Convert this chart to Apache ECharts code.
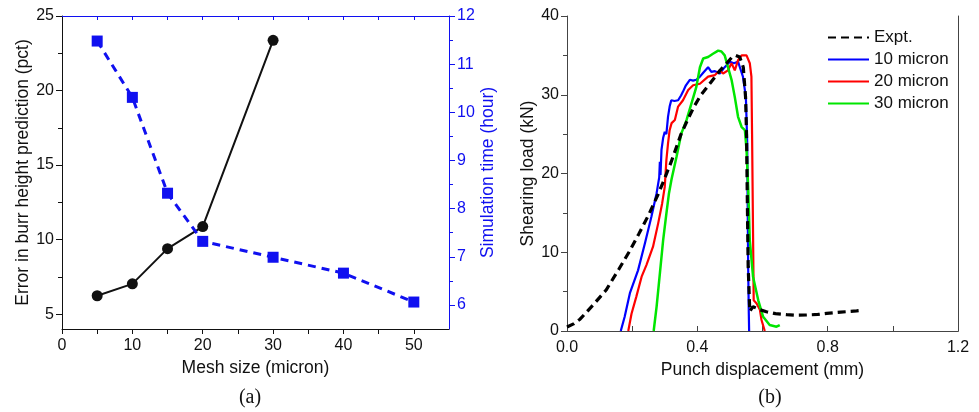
<!DOCTYPE html>
<html>
<head>
<meta charset="utf-8">
<script src="https://cdn.jsdelivr.net/npm/echarts@6/dist/echarts.min.js"></script>
<style>
  html, body { margin: 0; padding: 0; background: #ffffff; }
  #chart { width: 979px; height: 412px; }
</style>
</head>
<body>
<div id="chart"></div>
<script>
// (a) burr-height error and simulation time versus mesh size
const errMesh = [5, 10, 15, 20, 30];
const errPct = [6.23, 7.03, 9.39, 10.87, 23.37];
const timeMesh = [5, 10, 15, 20, 30, 40, 50];
const simHours = [11.48, 10.31, 8.32, 7.32, 6.99, 6.66, 6.06];

// (b) shearing load versus punch displacement
const exptDisp = [0.0, 0.02, 0.04, 0.08, 0.12, 0.16, 0.19, 0.22, 0.25, 0.28, 0.30, 0.32, 0.35, 0.37, 0.39, 0.41, 0.44, 0.47, 0.49, 0.505, 0.518, 0.53, 0.541, 0.548, 0.551, 0.553, 0.556, 0.561, 0.571, 0.592, 0.612, 0.64, 0.674, 0.70, 0.735, 0.77, 0.797, 0.84, 0.889, 0.90];
const exptLoad = [0.5, 0.9, 1.5, 3.3, 5.2, 7.9, 10.0, 12.3, 14.7, 17.4, 19.4, 21.5, 25.0, 26.8, 28.5, 29.9, 31.5, 33.1, 34.0, 34.7, 35.0, 34.8, 33.5, 29.7, 25.0, 18.0, 8.2, 2.5, 3.1, 2.7, 2.45, 2.2, 2.07, 2.0, 2.03, 2.1, 2.24, 2.4, 2.55, 2.6];

const m10Disp = [0.165, 0.177, 0.193, 0.218, 0.239, 0.259, 0.275, 0.283, 0.285, 0.287, 0.29, 0.295, 0.30, 0.305, 0.31, 0.315, 0.32, 0.33, 0.341, 0.35, 0.356, 0.365, 0.377, 0.387, 0.397, 0.408, 0.418, 0.433, 0.443, 0.454, 0.469, 0.484, 0.50, 0.512, 0.525, 0.532, 0.54, 0.549, 0.553, 0.556, 0.558, 0.559];
const m10Load = [0.0, 1.8, 4.8, 7.7, 11.1, 14.5, 17.5, 19.5, 21.5, 19.8, 23.0, 24.5, 25.3, 25.0, 27.2, 28.5, 29.3, 29.2, 29.3, 29.9, 30.4, 31.2, 31.9, 31.8, 31.9, 32.3, 32.8, 33.5, 32.9, 33.0, 32.7, 33.5, 34.2, 34.0, 34.2, 33.3, 32.3, 29.7, 24.0, 8.2, 2.2, 0.0];

const m20Disp = [0.188, 0.198, 0.213, 0.229, 0.244, 0.264, 0.28, 0.292, 0.297, 0.30, 0.305, 0.31, 0.315, 0.321, 0.331, 0.341, 0.356, 0.372, 0.387, 0.408, 0.433, 0.454, 0.469, 0.479, 0.494, 0.505, 0.515, 0.525, 0.536, 0.551, 0.561, 0.566, 0.568, 0.571, 0.573, 0.582, 0.592, 0.597, 0.607];
const m20Load = [0.0, 2.2, 4.4, 6.9, 8.4, 10.7, 13.7, 16.2, 16.0, 18.3, 21.7, 23.8, 25.5, 26.4, 26.8, 28.5, 29.3, 30.6, 31.2, 31.4, 32.3, 32.5, 33.1, 32.7, 33.1, 34.0, 33.1, 34.4, 35.0, 35.0, 34.0, 32.3, 25.0, 12.4, 3.9, 3.5, 2.7, 1.4, 0.0];

const m30Disp = [0.266, 0.275, 0.285, 0.295, 0.305, 0.313, 0.321, 0.336, 0.351, 0.367, 0.382, 0.397, 0.408, 0.418, 0.433, 0.448, 0.464, 0.474, 0.484, 0.494, 0.505, 0.515, 0.525, 0.536, 0.546, 0.551, 0.556, 0.561, 0.571, 0.587, 0.602, 0.622, 0.643, 0.653];
const m30Load = [0.0, 3.1, 7.3, 11.5, 14.9, 17.5, 19.3, 22.1, 25.1, 26.8, 28.9, 31.0, 33.5, 34.6, 34.8, 35.2, 35.6, 35.5, 35.0, 33.5, 31.9, 29.7, 27.2, 25.9, 25.5, 23.0, 18.3, 11.5, 6.9, 3.9, 1.8, 0.76, 0.55, 0.76];

// tick labels
const meshTicks = [0, 10, 20, 30, 40, 50];
const errorTicks = [5, 10, 15, 20, 25];
const hourTicks = [6, 7, 8, 9, 10, 11, 12];
const dispTicks = [0.0, 0.4, 0.8, 1.2];
const loadTicks = [0, 10, 20, 30, 40];

const FONT = '"Liberation Sans", Arial, sans-serif';
const SERIF = '20px "Liberation Serif", "Times New Roman", serif';
const TITLE_SIZE = 17.5;
const INK = '#111111';
const BLUE = '#1010f0';
const FRAME = '#444444';

const zip = (xs, ys) => xs.map((x, i) => [x, ys[i]]);

// y axis with labelled major ticks plus a second, label-free axis for minor ticks
function yPair(gridIndex, pos, min, max, labels, minors, lineColor, textColor, extra) {
  const major = Object.assign({
    type: 'value', gridIndex, position: pos, min, max,
    axisLine: { show: true, lineStyle: { color: lineColor, width: 1 } },
    axisTick: { show: true, inside: false, length: 6, customValues: labels, lineStyle: { color: lineColor } },
    axisLabel: { customValues: labels, color: textColor, fontFamily: FONT, fontSize: 16, margin: 8 },
    splitLine: { show: false }
  }, extra || {});
  const minor = {
    type: 'value', gridIndex, position: pos, min, max,
    axisLine: { show: false },
    axisTick: { show: true, inside: false, length: 4, customValues: minors, lineStyle: { color: lineColor } },
    axisLabel: { show: false },
    splitLine: { show: false }
  };
  return [major, minor];
}

const chart = echarts.init(document.getElementById('chart'), null, { renderer: 'canvas' });

const yAxes = [].concat(
  yPair(0, 'left', 4, 25, errorTicks, [7.5, 12.5, 17.5, 22.5], INK, INK, {
    name: 'Error in burr height prediction (pct)', nameLocation: 'middle', nameGap: 30, nameRotate: 90,
    nameTextStyle: { color: INK, fontFamily: FONT, fontSize: TITLE_SIZE }
  }),
  yPair(0, 'right', 5.5, 12, hourTicks, [6.5, 7.5, 8.5, 9.5, 10.5, 11.5], BLUE, BLUE, {
    name: 'Simulation time (hour)', nameLocation: 'middle', nameGap: 26, nameRotate: 90,
    nameTextStyle: { color: BLUE, fontFamily: FONT, fontSize: TITLE_SIZE }
  }),
  yPair(1, 'left', 0, 40, loadTicks, [5, 15, 25, 35], FRAME, INK, {
    name: 'Shearing load (kN)', nameLocation: 'middle', nameGap: 29, nameRotate: 90,
    nameTextStyle: { color: INK, fontFamily: FONT, fontSize: TITLE_SIZE }
  }),
  [{
    type: 'value', gridIndex: 1, position: 'right', min: 0, max: 40,
    axisLine: { show: true, lineStyle: { color: FRAME } },
    axisTick: { show: false }, axisLabel: { show: false }, splitLine: { show: false }
  }]
);

// load-displacement curve without point markers (markers hidden in legend too)
function curve(name, xs, ys, color, width, dash, z) {
  return {
    name, type: 'line', xAxisIndex: 2, yAxisIndex: 4,
    data: zip(xs, ys), showSymbol: false, symbol: 'none',
    lineStyle: { color, width, type: dash || 'solid' },
    itemStyle: { color, opacity: 0 }, z
  };
}

const option = {
  backgroundColor: '#ffffff',
  animation: false,
  grid: [
    { left: 62, top: 16, width: 387, height: 313 },
    { left: 567, top: 16, width: 391, height: 315 }
  ],
  xAxis: [
    {
      type: 'value', gridIndex: 0, position: 'bottom', min: 0, max: 55,
      axisLine: { show: true, lineStyle: { color: INK } },
      axisTick: { show: true, inside: false, length: 5, customValues: [0, 5, 10, 15, 20, 25, 30, 35, 40, 45, 50], lineStyle: { color: INK } },
      axisLabel: { customValues: meshTicks, color: INK, fontFamily: FONT, fontSize: 16, margin: 9 },
      splitLine: { show: false },
      name: 'Mesh size (micron)', nameLocation: 'middle', nameGap: 30,
      nameTextStyle: { color: INK, fontFamily: FONT, fontSize: TITLE_SIZE }
    },
    {
      type: 'value', gridIndex: 0, position: 'top', min: 0, max: 55,
      axisLine: { show: true, lineStyle: { color: BLUE } },
      axisTick: { show: true, inside: true, length: 4, customValues: [5, 10, 15, 20, 25, 30, 35, 40, 45, 50], lineStyle: { color: BLUE } },
      axisLabel: { show: false }, splitLine: { show: false }
    },
    {
      type: 'value', gridIndex: 1, position: 'bottom', min: 0, max: 1.2,
      axisLine: { show: true, lineStyle: { color: FRAME } },
      axisTick: { show: true, inside: true, length: 5, customValues: [0.2, 0.4, 0.6, 0.8, 1.0], lineStyle: { color: FRAME } },
      axisLabel: { customValues: dispTicks, color: INK, fontFamily: FONT, fontSize: 16, margin: 9, formatter: v => v.toFixed(1) },
      splitLine: { show: false },
      name: 'Punch displacement (mm)', nameLocation: 'middle', nameGap: 28,
      nameTextStyle: { color: INK, fontFamily: FONT, fontSize: TITLE_SIZE }
    },
    {
      type: 'value', gridIndex: 1, position: 'top', min: 0, max: 1.2,
      axisLine: { show: true, lineStyle: { color: FRAME } },
      axisTick: { show: false }, axisLabel: { show: false }, splitLine: { show: false }
    }
  ],
  yAxis: yAxes,
  legend: {
    orient: 'vertical', left: 822, top: 24,
    itemWidth: 41, itemHeight: 14, itemGap: 5,
    itemStyle: { opacity: 0 },
    textStyle: { color: INK, fontFamily: FONT, fontSize: 17 },
    data: ['Expt.', '10 micron', '20 micron', '30 micron']
  },
  graphic: [
    { type: 'text', style: { text: '(a)', x: 250, y: 398, align: 'center', verticalAlign: 'middle', font: SERIF, fill: INK } },
    { type: 'text', style: { text: '(b)', x: 770, y: 398, align: 'center', verticalAlign: 'middle', font: SERIF, fill: INK } }
  ],
  series: [
    {
      name: 'Burr error', type: 'line', xAxisIndex: 0, yAxisIndex: 0,
      data: zip(errMesh, errPct),
      symbol: 'circle', symbolSize: 11,
      lineStyle: { color: INK, width: 2 },
      itemStyle: { color: INK }, z: 3
    },
    {
      name: 'Simulation time', type: 'line', xAxisIndex: 0, yAxisIndex: 2,
      data: zip(timeMesh, simHours),
      symbol: 'rect', symbolSize: 11,
      lineStyle: { color: BLUE, width: 3, type: [8, 6] },
      itemStyle: { color: BLUE }, z: 4
    },
    curve('Expt.', exptDisp, exptLoad, '#000000', 3.2, [8, 5], 5),
    curve('10 micron', m10Disp, m10Load, '#0000ff', 2.2, null, 3),
    curve('20 micron', m20Disp, m20Load, '#ff0000', 2.2, null, 3),
    curve('30 micron', m30Disp, m30Load, '#00e600', 2.5, null, 4)
  ]
};

chart.setOption(option);
</script>
</body>
</html>
